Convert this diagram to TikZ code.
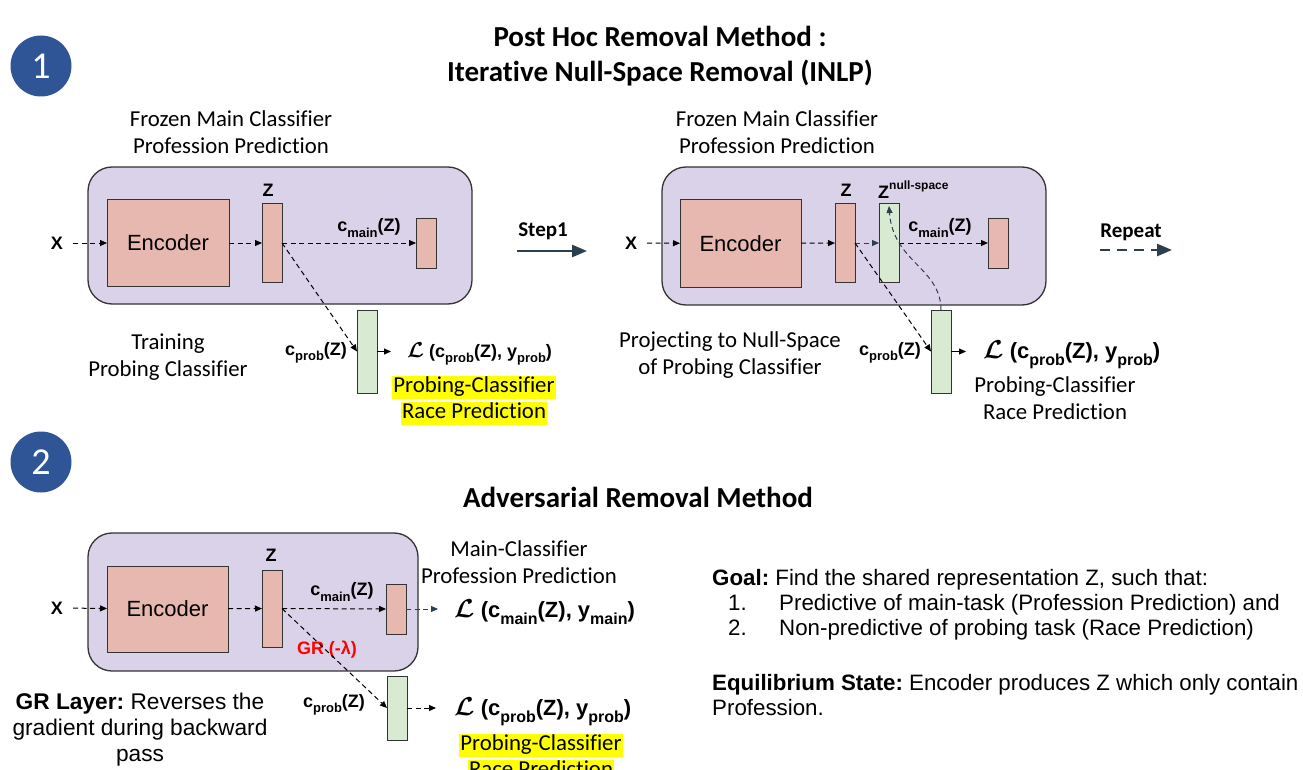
\documentclass[tikz,border=0pt]{standalone}
\usepackage{fontspec}
\usepackage{amsmath,bm}
\setmainfont{Carlito}[Ligatures=NoCommon]
\newfontfamily\arialf{Liberation Sans}
\usetikzlibrary{arrows.meta}
\frenchspacing

\definecolor{panelfill}{HTML}{D9D2E9}
\definecolor{encfill}{HTML}{E6B8AF}
\definecolor{probefill}{HTML}{D9EAD3}
\definecolor{slate}{HTML}{2B3F4E}
\definecolor{badgeblue}{HTML}{2F5597}
\definecolor{edgegray}{HTML}{333333}
\definecolor{hlyellow}{HTML}{FFFF00}

% lowered subscript / raised superscript in the current text font
\newcommand\sub[2][13]{\raisebox{-0.3em}{\fontsize{#1}{#1}\selectfont #2}}
\newcommand\sups[2][12]{\raisebox{0.5em}{\fontsize{#1}{#1}\selectfont #2}}
\newcommand\Lsym{\scalebox{1.25}{$\bm{\mathcal{L}}$}}

% rectangular block given by its corners: name, style, x1, y1, x2, y2, text
\newcommand\blockat[7]{\node[#2, anchor=north west, minimum width={(#5)-(#3)}, minimum height={(#6)-(#4)}] (#1) at (#3,#4) {#7};}

\tikzset{
  panel/.style={draw=edgegray, line width=1.3pt, fill=panelfill, rounded corners=24pt, inner sep=0pt, outer sep=0pt},
  encbox/.style={draw=edgegray, line width=1pt, fill=encfill, inner sep=0pt, outer sep=0pt, font=\arialf\fontsize{22}{22}\selectfont},
  probebox/.style={draw=edgegray, line width=1pt, fill=probefill, inner sep=0pt, outer sep=0pt},
  calib/.style={font=\fontsize{22.8}{27}\selectfont, align=center, inner sep=0pt},
  lab/.style={font=\arialf\bfseries\fontsize{18}{18}\selectfont, inner sep=0pt},
  lossA/.style={font=\arialf\bfseries\fontsize{18}{18}\selectfont, inner sep=0pt},
  lossB/.style={font=\arialf\bfseries\fontsize{22}{22}\selectfont, inner sep=0pt},
  hl/.style={fill=hlyellow, font=\fontsize{22.8}{27}\selectfont, inner xsep=1pt, inner ysep=1.5pt, text height=15pt, text depth=5pt},
  badge/.style={circle, fill=badgeblue, minimum size=61pt, inner sep=0pt, text=white, font=\fontsize{38}{38}\selectfont},
  head/.style={font=\bfseries\fontsize{29}{35}\selectfont, align=center, inner sep=0pt},
  dar/.style={draw=black, line width=1pt, dash pattern=on 5pt off 3.5pt, -{Triangle[length=7pt,width=6pt]}},
  sar/.style={dar, draw=slate, -{Triangle[length=7pt,width=6pt,fill=slate]}},
  sol/.style={draw=black, line width=1pt, -{Triangle[length=7pt,width=6pt]}},
  arialtxt/.style={font=\arialf\fontsize{22.3}{26}\selectfont, inner sep=0pt},
}

\begin{document}
\begin{tikzpicture}[x=1pt,y=-1pt]
\clip (0,0) rectangle (1303,770);
\fill[white] (0,0) rectangle (1303,770);

% ---------- section 1: post hoc removal ----------
\node[badge] (b1) at (41,66) {1};
\node[head] (t1) at (660,56) {Post Hoc Removal Method :\\Iterative Null-Space Removal (INLP)};

% training the probe
\node[calib] (fz1) at (231,132) {Frozen Main Classifier\\Profession Prediction};
\blockat{p1}{panel}{88}{167}{472}{304}{}
\blockat{e1}{encbox}{107}{200}{229}{286}{Encoder}
\node[lab] (x1) at (57,243) {X};
\node[lab] (zl1) at (268,190) {Z};
\blockat{z1}{encbox}{262}{204}{282}{282}{}
\blockat{m1}{encbox}{416}{218}{436}{268}{}
\node[lab] (cm1) at (369,228) {c\sub{main}(Z)};
\blockat{g1}{probebox}{357}{310}{377}{393}{}
\node[lab] (cp1) at (316,353) {c\sub{prob}(Z)};
\node[lossA, anchor=west] (l1) at (407,354) {\Lsym\ (c\sub{prob}(Z), y\sub{prob})};
\node[hl] (h1a) at (474,387) {Probing-Classifier};
\node[hl] (h1b) at (474,413) {Race Prediction};
\node[calib] (tr1) at (168,357) {Training\\Probing Classifier};

\draw[dar, shorten <=10pt] (x1) -- (e1);
\draw[dar] (e1) -- (z1);
\draw[dar] (z1) -- (m1);
\draw[dar] (z1.east) -- (g1.west);
\draw[sol, shorten >=16pt] (g1.east) -- (g1.east -| l1.west);

% step arrow
\node[font=\bfseries\fontsize{21}{21}\selectfont, inner sep=0pt] (st) at (543,231) {Step1};
\coordinate (sa) at (517,251);
\coordinate (sb) at (587,251);
\draw[draw=slate, line width=2.6pt, -{Triangle[length=15pt,width=12pt,fill=slate]}] (sa) -- (sb);

% projecting to the null-space
\node[calib] (fz2) at (777,132) {Frozen Main Classifier\\Profession Prediction};
\blockat{p2}{panel}{662}{167}{1046}{305}{}
\blockat{e2}{encbox}{680}{200}{801}{287}{Encoder}
\node[lab] (x2) at (631,243) {X};
\node[lab] (zl2) at (846,190) {Z};
\blockat{z2}{encbox}{835}{204}{855}{282}{}
\blockat{zn}{probebox}{879}{204}{899}{282}{}
\node[lab, anchor=west] (znl) at (878,190) {Z\sups{null-space}};
\node[lab] (cm2) at (940,228) {c\sub{main}(Z)};
\blockat{m2}{encbox}{988}{218}{1008}{268}{}
\blockat{g2}{probebox}{931}{310}{951}{393}{}
\node[lab] (cp2) at (890,353) {c\sub{prob}(Z)};
\node[lossB, anchor=west] (l2) at (983,355) {\Lsym\ (c\sub[16]{prob}(Z), y\sub[16]{prob})};
\node[calib] (pr2) at (1055,398) {Probing-Classifier\\Race Prediction};
\node[calib] (pj) at (730,355) {Projecting to Null-Space\\of Probing Classifier};

\draw[dar, shorten <=10pt] (x2) -- (e2);
\draw[dar] (e2) -- (z2);
\draw[sar] (z2) -- (zn);
\draw[dar] (zn) -- (m2);
\draw[dar] (z2.east) -- (g2.west);
\draw[sar] (g2.north) .. controls (941,268) and (893,262) .. ([yshift=-2pt]zn.north);
\draw[sol, shorten >=17pt] (g2.east) -- (g2.east -| l2.west);

% repeat arrow
\node[font=\bfseries\fontsize{21}{21}\selectfont, inner sep=0pt] (rp) at (1131,232) {Repeat};
\coordinate (ra) at (1100,250);
\coordinate (rb) at (1172,250);
\draw[draw=slate, line width=2.6pt, dash pattern=on 10pt off 7pt, -{Triangle[length=15pt,width=12pt,fill=slate]}] (ra) -- (rb);

% ---------- section 2: adversarial removal ----------
\node[badge] (b2) at (41,462) {2};
\node[head] (t2) at (638,497) {Adversarial Removal Method};

\blockat{p3}{panel}{88}{533}{418}{671}{}
\blockat{e3}{encbox}{107}{566}{228}{652}{Encoder}
\node[lab] (x3) at (57,608) {X};
\node[lab] (zl3) at (271,555) {Z};
\blockat{z3}{encbox}{262}{570}{282}{647}{}
\node[lab] (cm3) at (342,592) {c\sub{main}(Z)};
\blockat{m3}{encbox}{386}{584}{406}{634}{}
\node[lab, text=red] (gr) at (327,650) {GR (-λ)};
\blockat{g3}{probebox}{387}{676}{407}{740}{}
\node[lab] (cp3) at (334,705) {c\sub{prob}(Z)};
\node[lossB, anchor=west] (l3) at (454,612) {\Lsym\ (c\sub[16]{main}(Z), y\sub[16]{main})};
\node[lossB, anchor=west] (l4) at (454,712) {\Lsym\ (c\sub[16]{prob}(Z), y\sub[16]{prob})};
\node[calib] (mc) at (519,562) {Main-Classifier\\Profession Prediction};
\node[hl] (h3a) at (541,745) {Probing-Classifier};
\node[hl] (h3b) at (541,771) {Race Prediction};
\node[font=\arialf\fontsize{22.7}{26}\selectfont, align=center, inner sep=0pt] (grl) at (140,730)
  {\textbf{GR Layer:} Reverses the\\gradient during backward\\pass};

\draw[dar, shorten <=10pt] (x3) -- (e3);
\draw[dar] (e3) -- (z3);
\draw[dar] (z3) -- (m3);
\draw[dar] (z3.east) -- (g3.west);
\draw[sar, shorten >=16pt] (m3.east) -- (m3.east -| l3.west);
\draw[dar, shorten >=18pt] (g3.east) -- (g3.east -| l4.west);

% goal and equilibrium notes
\node[arialtxt, anchor=base west] (g0) at (712,585) {\textbf{Goal:} Find the shared representation Z, such that:};
\node[arialtxt, anchor=base west] (g1n) at (728,610) {1.};
\node[arialtxt, anchor=base west] (g1t) at (779,610) {Predictive of main-task (Profession Prediction) and};
\node[arialtxt, anchor=base west] (g2n) at (728,635) {2.};
\node[arialtxt, anchor=base west] (g2t) at (779,635) {Non-predictive of probing task (Race Prediction)};
\node[arialtxt, anchor=base west] (eq0) at (712,690) {\textbf{Equilibrium State:} Encoder produces Z which only contain};
\node[arialtxt, anchor=base west] (eq1) at (712,715) {Profession.};
\end{tikzpicture}
\end{document}
